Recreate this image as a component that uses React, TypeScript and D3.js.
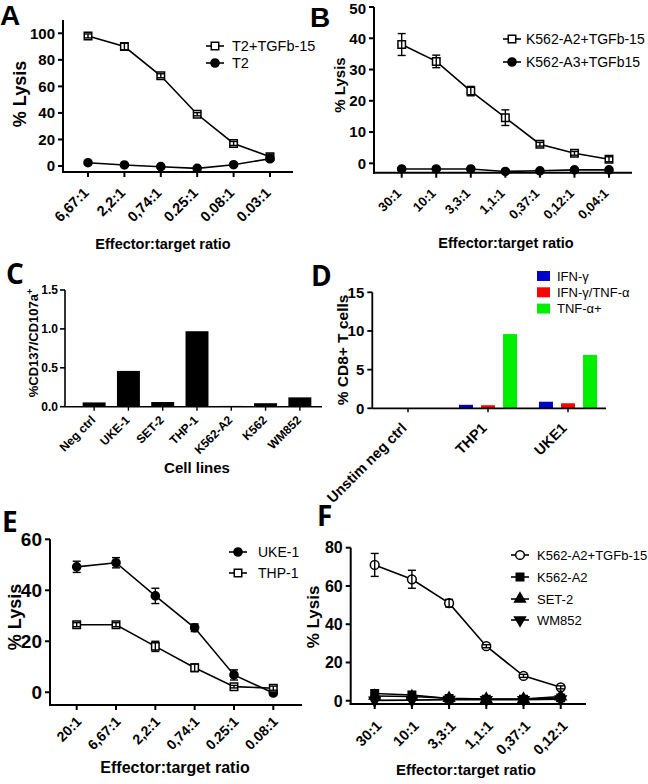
import React from "react";
import * as d3 from "d3";

// ---------- DATA ----------
const ratiosA = ["6,67:1", "2,2:1", "0,74:1", "0.25:1", "0.08:1", "0.03:1"];
const lysisT2TGF = [98, 90, 68, 39, 17, 7];
const errT2TGF = [1.5, 2.5, 1.5, 1.2, 1.5, 2];
const lysisT2 = [2.5, 0.8, -0.5, -1.8, 1, 5.5];
const errT2 = [0.4, 0.4, 0.4, 0.4, 0.5, 1.5];

const ratiosB = ["30:1", "10:1", "3,3:1", "1,1:1", "0,37:1", "0,12:1", "0,04:1"];
const lysisK562A2TGF = [38, 32.6, 23.1, 14.6, 6.1, 3.2, 1.3];
const errK562A2TGF = [3.5, 2, 1.5, 2.5, 0.6, 0.6, 0.8];
const lysisK562A3TGF = [-1.8, -1.8, -1.8, -2.6, -2.4, -2.1, -2.1];
const errK562A3TGF = [0.4, 0.4, 0.4, 0.4, 0.4, 0.4, 0.4];

const cellLinesC = ["Neg ctrl", "UKE-1", "SET-2", "THP-1", "K562-A2", "K562", "WM852"];
const cd137C = [0.055, 0.46, 0.06, 0.97, 0.01, 0.045, 0.12];

const groupsD = ["Unstim neg ctrl", "THP1", "UKE1"];
const cytokinesD = ["IFN-γ", "IFN-γ/TNF-α", "TNF-α+"];
const ifngD = [0, 0.45, 0.85];
const ifngTnfD = [0, 0.4, 0.65];
const tnfD = [0, 9.6, 6.9];

const ratiosE = ["20:1", "6,67:1", "2,2:1", "0,74:1", "0.25:1", "0.08:1"];
const lysisUKE1 = [49.2, 50.8, 37.8, 25.3, 6.8, -0.3];
const errUKE1 = [2.2, 2, 3, 1.5, 2, 0.8];
const lysisTHP1 = [26.5, 26.5, 18, 9.6, 2.2, 1.6];
const errTHP1 = [0.8, 0.8, 2, 1.5, 0.5, 0.8];

const ratiosF = ["30:1", "10:1", "3,3:1", "1,1:1", "0,37:1", "0,12:1"];
const lysisFK562A2TGF = [71, 63.5, 51, 28.5, 13, 7];
const errFK562A2TGF = [6, 4.7, 2, 0.8, 0.8, 0.8];
const lysisFK562A2 = [3.8, 3, 1.2, 0.8, 0.8, 1.5];
const lysisFSET2 = [2.5, 2.2, 1.3, 0.9, 0.9, 2.2];
const lysisFWM852 = [0.2, 0.3, 0.6, 0.5, 0.5, 0.8];

// ---------- STYLE ----------
const ARIAL = "'Liberation Sans', Arial, sans-serif";
const OPEN = "'Open Sans', 'Liberation Sans', sans-serif";

type Marker = "sqOpen" | "circle" | "circOpen" | "sqFill" | "triUp" | "triDown";

function MarkerShape({ type, x, y }: { type: Marker; x: number; y: number }) {
  const map: Record<Marker, [any, number, boolean, number]> = {
    sqOpen: [d3.symbolSquare, 56, false, 0],
    circle: [d3.symbolCircle, 52, true, 0],
    circOpen: [d3.symbolCircle, 60, false, 0],
    sqFill: [d3.symbolSquare, 56, true, 0],
    triUp: [d3.symbolTriangle, 50, true, 0],
    triDown: [d3.symbolTriangle, 50, true, 180],
  };
  const [sym, size, filled, rot] = map[type];
  const d = d3.symbol().type(sym).size(size)()!;
  return (
    <path
      d={d}
      transform={`translate(${x},${y}) rotate(${rot})`}
      fill={filled ? "#000" : "#fff"}
      stroke="#000"
      strokeWidth={1.5}
    />
  );
}

interface Series {
  name: string;
  values: number[];
  errors?: number[];
  marker: Marker;
}

interface LineCfg {
  categories: string[];
  xStart: number;
  xEnd: number;
  yAxisX: number;
  xAxisEnd: number;
  yDomain: [number, number];
  yTop: number;
  yBottom: number;
  yTicks: number[];
  yTickFont: number;
  xTickFont: number;
  xLabelDx: number;
  xLabelDy: number;
  yTitle: string;
  yTitleX: number;
  yTitleY: number;
  yTitleFont: number;
  xTitle: string;
  xTitleX: number;
  xTitleY: number;
  xTitleFont: number;
  legendX: number;
  legendTextX: number;
  legendYs: number[];
  legendFont: number;
  series: Series[];
}

function LinePanel({ c }: { c: LineCfg }) {
  const x = d3.scalePoint<string>().domain(c.categories).range([c.xStart, c.xEnd]);
  const y = d3.scaleLinear().domain(c.yDomain).range([c.yBottom, c.yTop]);
  const line = d3
    .line<number>()
    .x((_, i) => x(c.categories[i])!)
    .y((d) => y(d));
  return (
    <g fontFamily={ARIAL}>
      <line x1={c.yAxisX} x2={c.yAxisX} y1={c.yBottom + 1} y2={y(c.yDomain[1])} stroke="#000" strokeWidth={2} />
      <line x1={c.yAxisX - 1} x2={c.xAxisEnd} y1={c.yBottom} y2={c.yBottom} stroke="#000" strokeWidth={2} />
      {c.yTicks.map((t) => (
        <g key={t}>
          <line x1={c.yAxisX - 5} x2={c.yAxisX} y1={y(t)} y2={y(t)} stroke="#000" strokeWidth={2} />
          <text
            x={c.yAxisX - 8}
            y={Math.max(y(t), c.yTickFont * 0.6)}
            dy="0.36em"
            textAnchor="end"
            fontSize={c.yTickFont}
            fontWeight="bold"
          >
            {t}
          </text>
        </g>
      ))}
      {c.categories.map((cat) => (
        <g key={cat}>
          <line x1={x(cat)} x2={x(cat)} y1={c.yBottom} y2={c.yBottom + 5} stroke="#000" strokeWidth={2} />
          <text
            transform={`translate(${x(cat)! + c.xLabelDx},${c.yBottom + c.xLabelDy}) rotate(-45)`}
            textAnchor="end"
            dy="0.36em"
            fontSize={c.xTickFont}
            fontWeight="bold"
          >
            {cat}
          </text>
        </g>
      ))}
      <text
        transform={`translate(${c.yTitleX},${c.yTitleY}) rotate(-90)`}
        textAnchor="middle"
        dy="0.36em"
        fontSize={c.yTitleFont}
        fontWeight="bold"
      >
        {c.yTitle}
      </text>
      <text x={c.xTitleX} y={c.xTitleY} textAnchor="middle" dy="0.36em" fontSize={c.xTitleFont} fontWeight="bold">
        {c.xTitle}
      </text>
      {c.series.map((s) => (
        <g key={s.name}>
          <path d={line(s.values)!} fill="none" stroke="#000" strokeWidth={1.6} />
          {s.values.map((v, i) => (
            <MarkerShape key={i} type={s.marker} x={x(c.categories[i])!} y={y(v)} />
          ))}
          {s.errors &&
            s.values.map((v, i) => {
              const cx = x(c.categories[i])!;
              const e = s.errors![i];
              return (
                <g key={"e" + i} stroke="#000" strokeWidth={1.4}>
                  <line x1={cx} x2={cx} y1={y(v - e)} y2={y(v + e)} />
                  <line x1={cx - 4} x2={cx + 4} y1={y(v - e)} y2={y(v - e)} />
                  <line x1={cx - 4} x2={cx + 4} y1={y(v + e)} y2={y(v + e)} />
                </g>
              );
            })}
        </g>
      ))}
      {c.series.map((s, i) => (
        <g key={"l" + s.name}>
          <line x1={c.legendX - 9} x2={c.legendX + 9} y1={c.legendYs[i]} y2={c.legendYs[i]} stroke="#000" strokeWidth={1.6} />
          <MarkerShape type={s.marker} x={c.legendX} y={c.legendYs[i]} />
          <text x={c.legendTextX} y={c.legendYs[i]} dy="0.36em" fontSize={c.legendFont}>
            {s.name}
          </text>
        </g>
      ))}
    </g>
  );
}

function PanelC() {
  const yAxisX = 65;
  const yBottom = 406.7;
  const x = d3.scaleBand<string>().domain(cellLinesC).range([77, 317]).paddingInner(0.33).paddingOuter(0.165);
  const y = d3.scaleLinear().domain([0, 1.5]).range([yBottom, 290]);
  const ticks = [0, 0.5, 1.0, 1.5];
  return (
    <g fontFamily={ARIAL}>
      {cellLinesC.map((c, i) => (
        <rect key={c} x={x(c)} width={x.bandwidth()} y={y(cd137C[i])} height={yBottom - y(cd137C[i])} fill="#000" />
      ))}
      <line x1={yAxisX} x2={yAxisX} y1={yBottom} y2={y(1.5)} stroke="#000" strokeWidth={1.6} />
      <line x1={yAxisX} x2={322} y1={yBottom} y2={yBottom} stroke="#000" strokeWidth={1.6} />
      {ticks.map((t) => (
        <g key={t}>
          <line x1={yAxisX - 5} x2={yAxisX} y1={y(t)} y2={y(t)} stroke="#000" strokeWidth={1.6} />
          <text x={yAxisX - 7} y={y(t)} dy="0.36em" textAnchor="end" fontSize={12} fontWeight="bold">
            {t.toFixed(1)}
          </text>
        </g>
      ))}
      {cellLinesC.map((c) => {
        const cx = x(c)! + x.bandwidth() / 2;
        return (
          <g key={"t" + c}>
            <line x1={cx} x2={cx} y1={yBottom} y2={yBottom + 4} stroke="#000" strokeWidth={1.4} />
            <text
              transform={`translate(${cx - 1},${yBottom + 11}) rotate(-45)`}
              textAnchor="end"
              dy="0.36em"
              fontSize={12}
              fontWeight="bold"
            >
              {c}
            </text>
          </g>
        );
      })}
      <text transform={`translate(33,343) rotate(-90)`} textAnchor="middle" dy="0.36em" fontSize={13} fontWeight="bold">
        %CD137/CD107a
        <tspan dy="-0.5em" fontSize={9}>+</tspan>
      </text>
      <text x={197} y={468} dy="0.36em" textAnchor="middle" fontSize={15} fontWeight="bold">
        Cell lines
      </text>
    </g>
  );
}

function PanelD() {
  const yAxisX = 372.3;
  const yBottom = 408.3;
  const x0 = d3.scaleBand<string>().domain(groupsD).range([368, 608]);
  const x1 = d3.scaleBand<string>().domain(cytokinesD).range([7, 73]).paddingInner(0.364).paddingOuter(0.18);
  const y = d3.scaleLinear().domain([0, 15]).range([yBottom, 292.3]);
  const colors = ["#0000cc", "#ff0000", "#00ee00"];
  const values = [ifngD, ifngTnfD, tnfD];
  const ticks = [0, 5, 10, 15];
  return (
    <g fontFamily={ARIAL}>
      {groupsD.map((g, gi) =>
        cytokinesD.map((k, ki) => (
          <rect
            key={g + k}
            x={x0(g)! + x1(k)!}
            width={x1.bandwidth()}
            y={y(values[ki][gi])}
            height={yBottom - y(values[ki][gi])}
            fill={colors[ki]}
          />
        ))
      )}
      <line x1={yAxisX} x2={yAxisX} y1={yBottom} y2={y(15)} stroke="#000" strokeWidth={1.8} />
      <line x1={yAxisX} x2={606} y1={yBottom} y2={yBottom} stroke="#000" strokeWidth={1.8} />
      {ticks.map((t) => (
        <g key={t}>
          <line x1={yAxisX - 5} x2={yAxisX} y1={y(t)} y2={y(t)} stroke="#000" strokeWidth={1.8} />
          <text x={yAxisX - 8} y={y(t)} dy="0.36em" textAnchor="end" fontSize={15} fontWeight="bold">
            {t}
          </text>
        </g>
      ))}
      {groupsD.map((g) => {
        const cx = x0(g)! + x0.bandwidth() / 2;
        return (
          <g key={"t" + g}>
            <line x1={cx} x2={cx} y1={yBottom} y2={yBottom + 4} stroke="#000" strokeWidth={1.5} />
            <text
              transform={`translate(${cx - 4},${yBottom + 17}) rotate(-45)`}
              textAnchor="end"
              dy="0.36em"
              fontSize={14.5}
              fontWeight="bold"
            >
              {g}
            </text>
          </g>
        );
      })}
      <text transform={`translate(342,350) rotate(-90)`} textAnchor="middle" dy="0.36em" fontSize={15.5} fontWeight="bold">
        % CD8+ T cells
      </text>
      {cytokinesD.map((k, i) => (
        <g key={"lg" + k}>
          <rect x={537} y={271 + i * 16.3} width={13} height={10} fill={colors[i]} />
          <text x={557} y={276 + i * 16.3} dy="0.36em" fontSize={13}>
            {k}
          </text>
        </g>
      ))}
    </g>
  );
}

const cfgA: LineCfg = {
  categories: ratiosA,
  xStart: 88,
  xEnd: 270,
  yAxisX: 63,
  xAxisEnd: 293,
  yDomain: [-4.5, 110],
  yTop: 20,
  yBottom: 172,
  yTicks: [0, 20, 40, 60, 80, 100],
  yTickFont: 15,
  xTickFont: 14.5,
  xLabelDx: -2,
  xLabelDy: 18,
  yTitle: "% Lysis",
  yTitleX: 20,
  yTitleY: 94,
  yTitleFont: 18,
  xTitle: "Effector:target ratio",
  xTitleX: 163,
  xTitleY: 244,
  xTitleFont: 14.5,
  legendX: 215,
  legendTextX: 232,
  legendYs: [46, 63],
  legendFont: 14.5,
  series: [
    { name: "T2+TGFb-15", values: lysisT2TGF, errors: errT2TGF, marker: "sqOpen" },
    { name: "T2", values: lysisT2, errors: errT2, marker: "circle" },
  ],
};

const cfgB: LineCfg = {
  categories: ratiosB,
  xStart: 401.7,
  xEnd: 609,
  yAxisX: 374,
  xAxisEnd: 632,
  yDomain: [-3, 50],
  yTop: 7,
  yBottom: 172.7,
  yTicks: [0, 10, 20, 30, 40, 50],
  yTickFont: 15,
  xTickFont: 13,
  xLabelDx: -3,
  xLabelDy: 18,
  yTitle: "% Lysis",
  yTitleX: 340,
  yTitleY: 85,
  yTitleFont: 15,
  xTitle: "Effector:target ratio",
  xTitleX: 506,
  xTitleY: 243,
  xTitleFont: 14.5,
  legendX: 512,
  legendTextX: 526,
  legendYs: [39, 62],
  legendFont: 14,
  series: [
    { name: "K562-A2+TGFb-15", values: lysisK562A2TGF, errors: errK562A2TGF, marker: "sqOpen" },
    { name: "K562-A3+TGFb15", values: lysisK562A3TGF, errors: errK562A3TGF, marker: "circle" },
  ],
};

const cfgE: LineCfg = {
  categories: ratiosE,
  xStart: 76.7,
  xEnd: 273.3,
  yAxisX: 50,
  xAxisEnd: 302,
  yDomain: [-5, 60],
  yTop: 539.3,
  yBottom: 705,
  yTicks: [0, 20, 40, 60],
  yTickFont: 19,
  xTickFont: 14,
  xLabelDx: 2,
  xLabelDy: 14,
  yTitle: "% Lysis",
  yTitleX: 15,
  yTitleY: 617,
  yTitleFont: 18,
  xTitle: "Effector:target ratio",
  xTitleX: 175,
  xTitleY: 767,
  xTitleFont: 16,
  legendX: 238,
  legendTextX: 258,
  legendYs: [552, 573],
  legendFont: 14,
  series: [
    { name: "UKE-1", values: lysisUKE1, errors: errUKE1, marker: "circle" },
    { name: "THP-1", values: lysisTHP1, errors: errTHP1, marker: "sqOpen" },
  ],
};

const cfgF: LineCfg = {
  categories: ratiosF,
  xStart: 374.7,
  xEnd: 560.7,
  yAxisX: 350.7,
  xAxisEnd: 586,
  yDomain: [-1.7, 80],
  yTop: 547.7,
  yBottom: 704,
  yTicks: [0, 20, 40, 60, 80],
  yTickFont: 16,
  xTickFont: 14.5,
  xLabelDx: 4,
  xLabelDy: 19,
  yTitle: "% Lysis",
  yTitleX: 313,
  yTitleY: 617,
  yTitleFont: 17,
  xTitle: "Effector:target ratio",
  xTitleX: 466,
  xTitleY: 770,
  xTitleFont: 15,
  legendX: 520,
  legendTextX: 537,
  legendYs: [555, 577, 599, 620],
  legendFont: 13,
  series: [
    { name: "K562-A2+TGFb-15", values: lysisFK562A2TGF, errors: errFK562A2TGF, marker: "circOpen" },
    { name: "K562-A2", values: lysisFK562A2, marker: "sqFill" },
    { name: "SET-2", values: lysisFSET2, marker: "triUp" },
    { name: "WM852", values: lysisFWM852, marker: "triDown" },
  ],
};

export default function App() {
  return (
    <svg
      width={648}
      height={784}
      viewBox="0 0 648 784"
      style={{ position: "absolute", left: 0, top: 0, background: "#fff" }}
    >
      <rect width={648} height={784} fill="#fff" />
      <LinePanel c={cfgA} />
      <LinePanel c={cfgB} />
      <PanelC />
      <PanelD />
      <LinePanel c={cfgE} />
      <LinePanel c={cfgF} />
      <g fontWeight="bold" fontSize={28}>
        <text x={0} y={25} fontFamily={ARIAL}>A</text>
        <text x={310} y={27} fontFamily={ARIAL}>B</text>
        <text x={6} y={284} fontFamily={OPEN}>C</text>
        <text x={311} y={286} fontFamily={OPEN}>D</text>
        <text x={2} y={532} fontFamily={OPEN}>E</text>
        <text x={317} y={526} fontFamily={OPEN}>F</text>
      </g>
    </svg>
  );
}
